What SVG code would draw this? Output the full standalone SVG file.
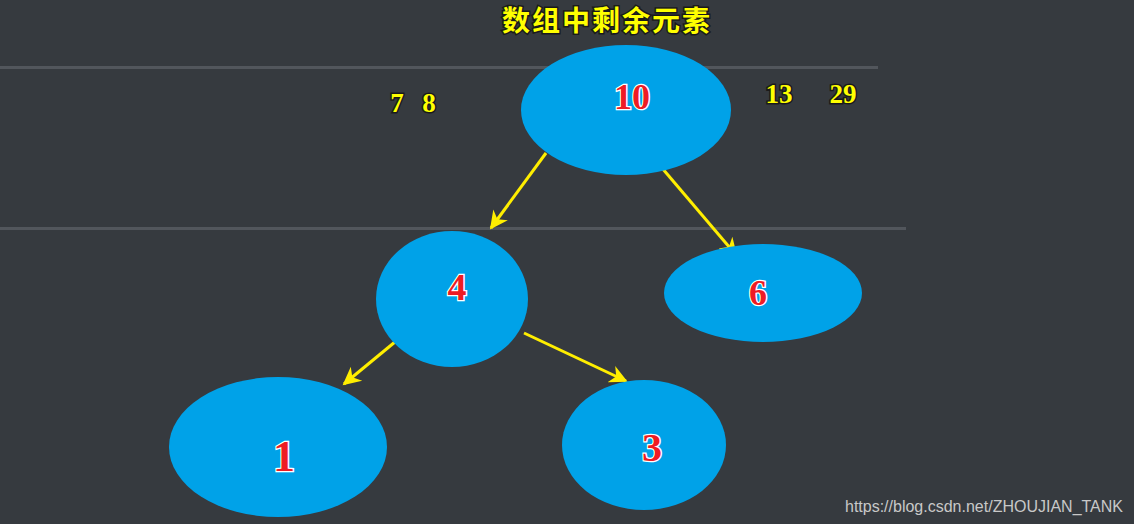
<svg xmlns="http://www.w3.org/2000/svg" width="1134" height="524" viewBox="0 0 1134 524">
<defs>
<style>
.node{fill:#00a2e8;}
.num{font-family:"Liberation Serif","DejaVu Serif",serif;font-weight:bold;fill:#ee1c24;stroke:#ffffff;stroke-width:2.5;paint-order:stroke;text-anchor:middle;}
.yel{font-family:"Liberation Serif","DejaVu Serif",serif;font-weight:bold;fill:#ffff00;stroke:#1a1a1a;stroke-width:3;paint-order:stroke;text-anchor:middle;}
.edge{stroke:#ffee00;stroke-width:3;fill:none;marker-end:url(#ah);}
.sep{stroke:#52565c;stroke-width:3;}
</style>
<marker id="ah" viewBox="0 0 10 10" refX="9" refY="5" markerWidth="7" markerHeight="6" orient="auto" markerUnits="strokeWidth">
<path d="M0,0 L10,5 L0,10 L3,5 Z" fill="#ffee00"/>
</marker>
</defs>
<rect width="1134" height="524" fill="#363a3f"/>
<line class="sep" x1="0" y1="67.5" x2="878" y2="67.5"/>
<line class="sep" x1="0" y1="228.5" x2="906" y2="228.5"/>
<text x="607" y="31" class="yel" font-size="28" letter-spacing="2" style="font-family:'Noto Sans CJK SC','Liberation Serif',serif">数组中剩余元素</text>
<text x="397" y="112" class="yel" font-size="27">7</text>
<text x="429" y="112" class="yel" font-size="27">8</text>
<text x="779" y="103" class="yel" font-size="27">13</text>
<text x="843" y="103" class="yel" font-size="27">29</text>
<g id="connectors">
<line class="edge" x1="546" y1="153" x2="491" y2="228"/>
<line class="edge" x1="662" y1="168" x2="736" y2="255"/>
<line class="edge" x1="401" y1="337" x2="344" y2="384"/>
<line class="edge" x1="524" y1="333" x2="626" y2="381"/>
</g>
<g id="n10"><ellipse class="node" cx="626" cy="110" rx="105" ry="65"/><text class="num" x="632" y="109" font-size="36">10</text></g>
<g id="n4"><ellipse class="node" cx="452" cy="299" rx="76" ry="68"/><text class="num" x="457" y="300" font-size="38">4</text></g>
<g id="n6"><ellipse class="node" cx="763" cy="293" rx="99" ry="49"/><text class="num" x="758" y="305" font-size="36">6</text></g>
<g id="n1"><ellipse class="node" cx="278" cy="447" rx="109" ry="70"/><text class="num" x="284" y="471" font-size="44">1</text></g>
<g id="n3"><ellipse class="node" cx="644" cy="445" rx="82" ry="65"/><text class="num" x="652" y="461" font-size="40">3</text></g>
<text x="984" y="512" font-family="'Liberation Sans',Arial,sans-serif" font-size="16" fill="#c8c8c8" text-anchor="middle">https://blog.csdn.net/ZHOUJIAN_TANK</text>
</svg>
